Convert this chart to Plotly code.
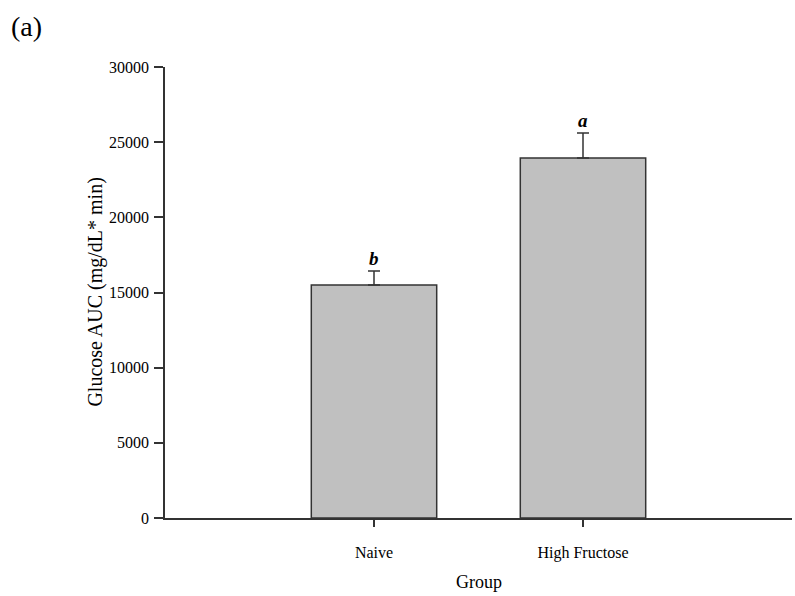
import plotly.graph_objects as go

groups = ["Naive", "High Fructose"]
auc_mean = [15500, 23950]
auc_sem = [930, 1660]
sig_letters = ["b", "a"]
y_ticks = [0, 5000, 10000, 15000, 20000, 25000, 30000]
y_tick_labels = ["0", "5000", "10000", "15000", "20000", "25000", "30000"]

FONT = "Liberation Serif, Times New Roman, serif"
INK = "#333333"

fig = go.Figure()
fig.add_trace(go.Bar(
    x=groups, y=auc_mean, width=0.6,
    marker=dict(color="#C0C0C0", line=dict(color=INK, width=1.5)),
    error_y=dict(type="data", array=auc_sem, symmetric=False,
                 arrayminus=[0, 0], color=INK, thickness=1.5, width=6),
    showlegend=False,
))

for g, m, e, s in zip(groups, auc_mean, auc_sem, sig_letters):
    fig.add_annotation(x=g, y=m + e, text=f"<b><i>{s}</i></b>", showarrow=False,
                       yanchor="bottom", yshift=0,
                       font=dict(family=FONT, size=19, color="#000"))

fig.add_annotation(xref="paper", yref="paper", x=-0.133, y=0.5,
                   text="Glucose AUC (mg/dL* min)", textangle=-90, showarrow=False,
                   font=dict(family=FONT, size=20, color="#000"))
fig.add_annotation(xref="paper", yref="paper", x=0.5, y=-0.142, yanchor="middle",
                   text="Group", showarrow=False,
                   font=dict(family=FONT, size=18, color="#000"))
fig.add_annotation(xref="paper", yref="paper", x=-0.249, y=1.09, xanchor="left",
                   yanchor="middle", text="(a)", showarrow=False,
                   font=dict(family=FONT, size=28, color="#000"))

fig.update_layout(
    width=795, height=596,
    margin=dict(l=165, r=3, t=67, b=78),
    paper_bgcolor="white", plot_bgcolor="white",
    font=dict(family=FONT, size=16, color="#000"),
    xaxis=dict(range=[-1, 2], showline=True, linecolor=INK, linewidth=1.5,
               ticks="outside", ticklen=7, tickcolor=INK, tickwidth=1.5,
               showgrid=False, zeroline=False, ticklabelstandoff=12,
               tickfont=dict(family=FONT, size=16)),
    yaxis=dict(range=[0, 30000], tickvals=y_ticks, ticktext=y_tick_labels,
               showline=True, linecolor=INK,
               linewidth=1.5, ticks="outside", ticklen=9, tickcolor=INK, tickwidth=1.5,
               showgrid=False, zeroline=False, ticklabelstandoff=2,
               tickfont=dict(family=FONT, size=16)),
)

fig.write_html("out.html")
